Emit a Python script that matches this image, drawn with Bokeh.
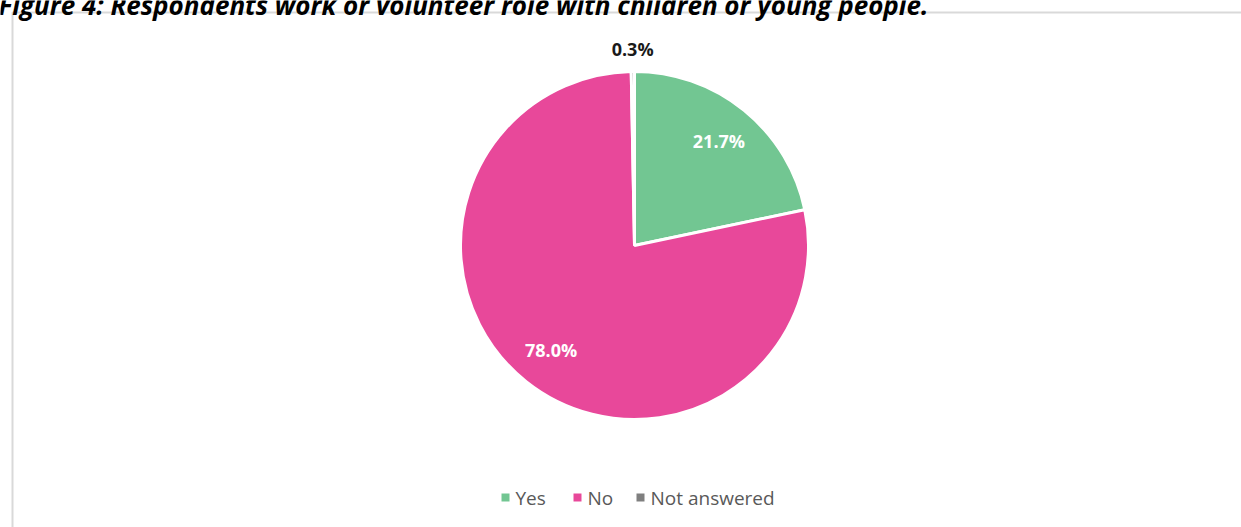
import math
from bokeh.plotting import figure
from bokeh.models import Range1d, ColumnDataSource
from bokeh.core.properties import value
from bokeh.embed import file_html
from bokeh.resources import INLINE

# ---- data ----
categories = ["Yes", "No", "Not answered"]
percentages = [21.7, 78.0, 0.3]
colors = ["#72C692", "#E8489A", "#7F7F7F"]
title_text = "Figure 4: Respondents work or volunteer role with children or young people."

W, H = 1241, 527
FONT = "Open Sans"

p = figure(width=W, height=H, x_range=Range1d(0, W), y_range=Range1d(0, H),
           output_backend="svg", toolbar_location=None, min_border=0)
p.axis.visible = False
p.grid.visible = False
p.outline_line_color = None
p.background_fill_color = "white"
p.border_fill_color = "white"

def Y(ypx):
    return H - ypx

# chart frame
p.quad(left=[12], right=[W + 20], top=[Y(12)], bottom=[-20],
       fill_color="white", line_color="#D9D9D9", line_width=2)

# title (partially cut off at top, as in the reference)
p.text(x=[-2], y=[Y(4)], text=[title_text], text_font=value(FONT),
       text_font_style="bold italic", text_font_size="26px",
       text_color="#000000", text_baseline="alphabetic", text_align="left")

# pie
cx, cy, R = 634, Y(245), 174
total = sum(percentages)
starts, ends, mids = [], [], []
cum = 0.0
for v in percentages:
    a0 = math.pi / 2 - 2 * math.pi * cum / total
    cum += v
    a1 = math.pi / 2 - 2 * math.pi * cum / total
    starts.append(a0)
    ends.append(a1)
    mids.append((a0 + a1) / 2)

src = ColumnDataSource(dict(start=starts, end=ends, color=colors, cat=categories))
p.wedge(x=cx, y=cy, radius=R, start_angle="start", end_angle="end",
        direction="clock", fill_color="color", line_color="white",
        line_width=3, source=src)

# data labels
lab_x, lab_y, lab_t, lab_c = [], [], [], []
for v, m in zip(percentages, mids):
    inside = v > 5
    r = R * (0.77 if inside else 1.13)
    lab_x.append(cx + r * math.cos(m))
    lab_y.append(cy + r * math.sin(m))
    lab_t.append(f"{v:.1f}%")
    lab_c.append("#FFFFFF" if inside else "#1A1A1A")
p.text(x=lab_x, y=lab_y, text=lab_t, text_color=lab_c, text_font=value(FONT),
       text_font_style="bold", text_font_size="18px",
       text_align="center", text_baseline="middle")

# legend
leg_x = [505, 577, 640]
leg_y = Y(497)
p.scatter(x=leg_x, y=[leg_y] * 3, marker="square", size=8,
          fill_color=colors, line_color=None)
p.text(x=[x + 10 for x in leg_x], y=[leg_y] * 3, text=categories,
       text_color="#595959", text_font=value(FONT), text_font_size="19px",
       text_align="left", text_baseline="middle")

open("out.html", "w").write(file_html(p, INLINE))
